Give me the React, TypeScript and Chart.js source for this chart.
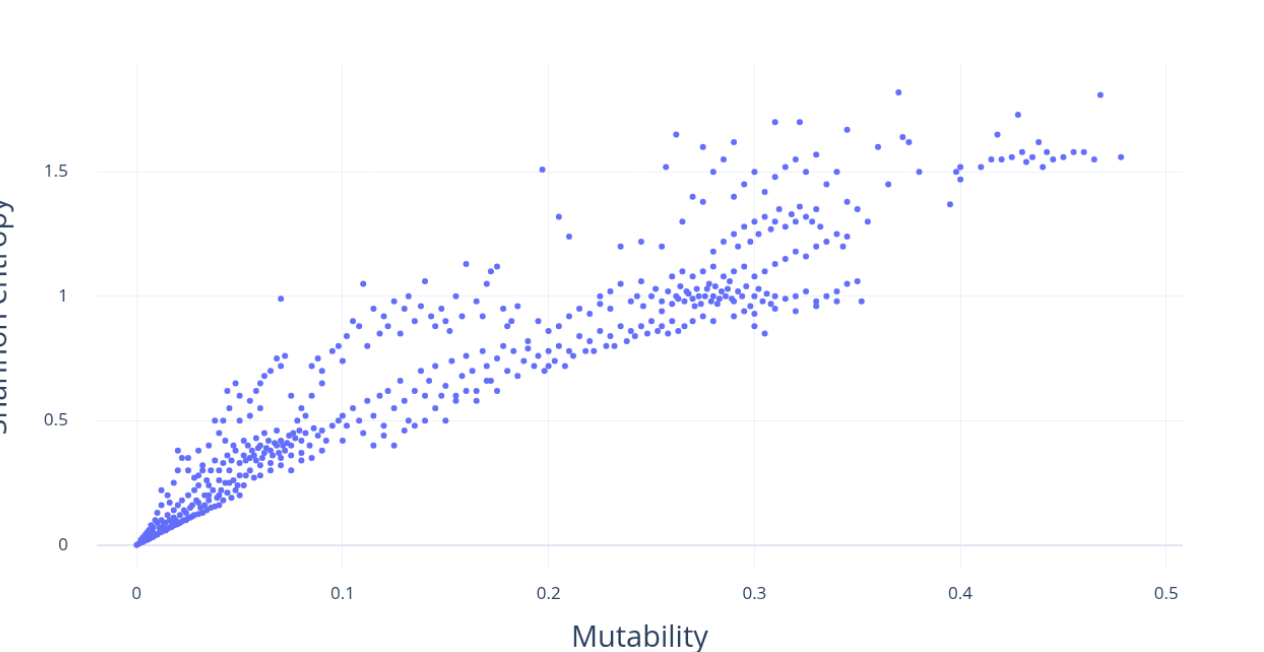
import React, { useEffect, useRef } from "react";
import { Chart, registerables } from "chart.js";
Chart.register(...registerables);

const xTicks = [0, 0.1, 0.2, 0.3, 0.4, 0.5];
const yTicks = [0, 0.5, 1, 1.5];

// [mutability, entropy] pairs, grouped by region
const originCluster: number[][] = [
  [0,0],[0.001,0.005],[0.002,0.01],[0.003,0.012],[0.004,0.018],[0.005,0.02],[0.006,0.025],[0.007,0.03],[0.008,0.033],[0.009,0.04],
  [0.01,0.042],[0.011,0.05],[0.012,0.052],[0.013,0.06],[0.014,0.058],[0.015,0.065],[0.016,0.07],[0.017,0.072],[0.018,0.08],[0.019,0.082],
  [0.02,0.085],[0.021,0.09],[0.022,0.095],[0.023,0.1],[0.024,0.1],[0.025,0.11],[0.026,0.11],[0.027,0.115],[0.028,0.12],[0.03,0.125],
  [0.032,0.13],[0.034,0.14],[0.036,0.15],[0.038,0.155],[0.04,0.16],[0.005,0.05],[0.008,0.07],[0.01,0.09],[0.012,0.1],[0.015,0.12],
  [0.018,0.14],[0.02,0.16],[0.022,0.18],[0.025,0.2],[0.028,0.22],[0.03,0.24],[0.015,0.2],[0.018,0.25],[0.02,0.3],[0.022,0.35],
  [0.012,0.16],[0.01,0.13],[0.006,0.06],[0.003,0.03],[0.014,0.09],[0.016,0.1],[0.018,0.11],[0.024,0.13],[0.026,0.15],[0.03,0.17],
  [0.033,0.2],[0.035,0.18],[0.037,0.22],[0.04,0.2],[0.042,0.18],[0.044,0.21],[0.046,0.19],[0.048,0.22],[0.05,0.2],[0.052,0.24],
  [0.02,0.38],[0.025,0.3],[0.028,0.27],[0.032,0.3],[0.012,0.22],[0.016,0.17],[0.009,0.1],[0.007,0.08],[0.004,0.04],[0.002,0.02],
  [0.011,0.07],[0.013,0.08],[0.017,0.09],[0.019,0.1],[0.021,0.12],[0.023,0.14],[0.027,0.16],[0.029,0.18],[0.031,0.15],[0.033,0.16],
  [0.035,0.2],[0.039,0.19],[0.041,0.22],[0.043,0.25],[0.047,0.26],[0.049,0.24],[0.053,0.28],[0.057,0.27],[0.006,0.04],[0.008,0.05],
];
const upperLeftBand: number[][] = [
  [0.03,0.28],[0.032,0.32],[0.034,0.26],[0.036,0.3],[0.038,0.34],[0.04,0.3],[0.042,0.33],[0.044,0.36],[0.045,0.3],[0.046,0.34],
  [0.048,0.38],[0.05,0.33],[0.052,0.36],[0.054,0.4],[0.055,0.35],[0.056,0.38],[0.058,0.34],[0.06,0.4],[0.062,0.37],[0.064,0.42],
  [0.065,0.38],[0.066,0.36],[0.068,0.4],[0.07,0.42],[0.072,0.38],[0.074,0.44],[0.075,0.4],[0.077,0.43],[0.079,0.46],[0.08,0.42],
  [0.082,0.45],[0.084,0.4],[0.086,0.47],[0.088,0.44],[0.09,0.46],[0.092,0.42],[0.05,0.28],[0.055,0.3],[0.06,0.32],[0.065,0.33],
  [0.07,0.35],[0.075,0.36],[0.08,0.37],[0.045,0.25],[0.04,0.26],[0.035,0.24],[0.058,0.43],[0.062,0.45],[0.068,0.46],[0.052,0.42],
  [0.047,0.4],[0.043,0.42],[0.04,0.45],[0.05,0.5],[0.055,0.52],[0.06,0.55],[0.035,0.4],[0.03,0.38],[0.025,0.35],[0.042,0.5],
  [0.045,0.55],[0.05,0.6],[0.055,0.58],[0.06,0.65],[0.065,0.7],[0.07,0.72],[0.068,0.75],[0.072,0.76],[0.062,0.68],[0.058,0.62],
  [0.048,0.65],[0.044,0.62],[0.038,0.5],[0.07,0.99],[0.075,0.6],[0.08,0.55],[0.085,0.6],[0.09,0.65],[0.078,0.5],[0.082,0.52],
  [0.095,0.48],[0.098,0.5],[0.1,0.52],[0.06,0.28],[0.065,0.3],[0.07,0.32],[0.075,0.3],[0.08,0.34],[0.085,0.35],[0.09,0.38],
  [0.053,0.34],[0.057,0.36],[0.059,0.39],[0.061,0.35],[0.063,0.39],[0.067,0.41],[0.069,0.37],[0.071,0.4],[0.073,0.41],[0.076,0.45],
];
const upperBranch: number[][] = [
  [0.085,0.72],[0.088,0.75],[0.09,0.7],[0.095,0.78],[0.098,0.8],[0.1,0.74],[0.102,0.84],[0.105,0.9],[0.108,0.88],[0.11,1.05],
  [0.112,0.8],[0.115,0.95],[0.118,0.85],[0.12,0.92],[0.122,0.88],[0.125,0.98],[0.128,0.85],[0.13,0.95],[0.132,1.0],[0.135,0.9],
  [0.138,0.96],[0.14,1.06],[0.143,0.92],[0.145,0.88],[0.148,0.95],[0.15,0.9],[0.152,0.86],[0.155,1.0],[0.158,0.92],[0.16,1.13],
  [0.165,0.98],[0.168,0.92],[0.17,1.05],[0.172,1.1],[0.175,1.12],[0.178,0.95],[0.18,0.88],[0.182,0.9],[0.185,0.96],[0.19,0.82],
  [0.197,1.51],[0.205,1.32],[0.21,1.24],[0.195,0.9],[0.2,0.86],
];
const middleBand: number[][] = [
  [0.1,0.42],[0.102,0.48],[0.105,0.55],[0.108,0.5],[0.11,0.45],[0.112,0.58],[0.115,0.52],[0.118,0.6],[0.12,0.48],[0.122,0.62],
  [0.125,0.55],[0.128,0.66],[0.13,0.58],[0.132,0.5],[0.135,0.62],[0.138,0.7],[0.14,0.6],[0.142,0.66],[0.145,0.72],[0.148,0.6],
  [0.15,0.64],[0.153,0.74],[0.155,0.58],[0.158,0.68],[0.16,0.76],[0.163,0.7],[0.165,0.62],[0.168,0.78],[0.17,0.72],[0.172,0.66],
  [0.175,0.75],[0.178,0.8],[0.18,0.7],[0.183,0.78],[0.185,0.68],[0.188,0.74],[0.19,0.79],[0.193,0.72],[0.195,0.76],[0.198,0.7],
  [0.2,0.78],[0.203,0.74],[0.205,0.8],[0.208,0.72],[0.21,0.78],[0.212,0.76],[0.215,0.84],[0.218,0.78],[0.22,0.82],[0.222,0.78],
  [0.225,0.86],[0.228,0.8],[0.23,0.84],[0.232,0.8],[0.235,0.88],[0.238,0.82],[0.24,0.86],[0.242,0.84],[0.245,0.88],[0.248,0.85],
  [0.25,0.9],[0.253,0.86],[0.255,0.88],[0.258,0.85],[0.26,0.9],[0.263,0.86],[0.266,0.88],[0.27,0.9],[0.275,0.92],[0.28,0.9],
  [0.115,0.4],[0.12,0.44],[0.125,0.4],[0.13,0.46],[0.135,0.48],[0.14,0.5],[0.145,0.55],[0.15,0.5],[0.155,0.6],[0.16,0.62],
  [0.165,0.58],[0.17,0.66],[0.175,0.62],[0.2,0.72],[0.205,0.88],[0.21,0.92],[0.215,0.95],[0.22,0.93],[0.225,0.97],[0.23,0.95],
];
const rightCluster: number[][] = [
  [0.24,0.98],[0.243,1.0],[0.246,0.96],[0.25,1.0],[0.252,1.03],[0.255,0.98],[0.258,1.02],[0.26,0.97],[0.262,1.0],[0.264,1.04],
  [0.266,0.98],[0.268,1.01],[0.27,0.99],[0.272,1.03],[0.274,0.97],[0.276,1.0],[0.278,1.05],[0.28,1.0],[0.282,0.97],[0.284,1.02],
  [0.286,1.0],[0.288,1.06],[0.29,0.98],[0.292,1.02],[0.294,1.0],[0.296,1.04],[0.298,0.96],[0.3,1.0],[0.302,1.03],[0.304,0.98],
  [0.306,1.01],[0.308,0.97],[0.31,1.0],[0.315,0.99],[0.32,1.0],[0.325,1.02],[0.33,0.98],[0.335,1.0],[0.34,1.02],[0.345,1.05],
  [0.35,1.06],[0.352,0.98],[0.27,1.08],[0.275,1.1],[0.28,1.12],[0.285,1.08],[0.29,1.1],[0.295,1.12],[0.3,1.08],[0.305,1.1],
  [0.31,1.13],[0.315,1.15],[0.32,1.18],[0.325,1.16],[0.33,1.2],[0.335,1.22],[0.34,1.25],[0.345,1.24],[0.29,0.92],[0.295,0.94],
  [0.3,0.93],[0.31,0.95],[0.32,0.94],[0.33,0.96],[0.34,0.98],[0.3,0.88],[0.305,0.85],[0.255,0.94],[0.26,1.08],[0.265,1.1],
  [0.245,1.06],[0.235,1.05],[0.23,1.02],[0.225,1.0],[0.235,1.2],[0.245,1.22],[0.255,1.2],[0.265,1.3],[0.27,1.4],[0.275,1.38],
  [0.263,0.99],[0.267,1.02],[0.271,0.96],[0.273,1.0],[0.277,1.03],[0.279,0.98],[0.281,1.04],[0.283,0.99],[0.287,1.03],[0.289,0.99],
];
const upperRight: number[][] = [
  [0.28,1.18],[0.285,1.22],[0.29,1.25],[0.292,1.2],[0.295,1.28],[0.298,1.22],[0.3,1.3],[0.302,1.25],[0.305,1.32],[0.308,1.27],
  [0.31,1.3],[0.312,1.35],[0.315,1.28],[0.318,1.33],[0.32,1.3],[0.322,1.36],[0.325,1.32],[0.328,1.3],[0.33,1.35],[0.332,1.28],
  [0.29,1.4],[0.295,1.45],[0.3,1.5],[0.305,1.42],[0.31,1.48],[0.315,1.52],[0.32,1.55],[0.325,1.5],[0.33,1.57],[0.335,1.45],
  [0.34,1.5],[0.345,1.38],[0.35,1.35],[0.355,1.3],[0.285,1.55],[0.28,1.5],[0.275,1.6],[0.262,1.65],[0.257,1.52],[0.29,1.62],
  [0.31,1.7],[0.322,1.7],[0.345,1.67],[0.36,1.6],[0.365,1.45],[0.37,1.82],[0.372,1.64],[0.375,1.62],[0.38,1.5],[0.343,1.2],
];
const tail: number[][] = [
  [0.395,1.37],[0.398,1.5],[0.4,1.52],[0.41,1.52],[0.415,1.55],[0.418,1.65],[0.42,1.55],[0.425,1.56],[0.428,1.73],[0.43,1.58],
  [0.432,1.54],[0.435,1.56],[0.438,1.62],[0.44,1.52],[0.442,1.58],[0.445,1.55],[0.45,1.56],[0.455,1.58],[0.46,1.58],[0.465,1.55],
  [0.468,1.81],[0.478,1.56],[0.4,1.47],
];

const allPoints = [...originCluster, ...upperLeftBand, ...upperBranch, ...middleBand, ...rightCluster, ...upperRight, ...tail];

export default function App() {
  const ref = useRef<HTMLCanvasElement>(null);
  useEffect(() => {
    document.body.style.margin = "0";
    const font = "'Open Sans', 'Noto Sans', sans-serif";
    const chart = new Chart(ref.current!, {
      type: "scatter",
      data: {
        datasets: [{
          data: allPoints.map(([x, y]) => ({ x, y })),
          backgroundColor: "#636efa",
          borderWidth: 0,
          pointRadius: 3,
        }],
      },
      options: {
        animation: false,
        responsive: false,
        layout: { padding: { left: 0, right: 80, top: 64, bottom: 6 } },
        plugins: { legend: { display: false }, tooltip: { enabled: false } },
        scales: {
          x: {
            type: "linear", min: -0.0195, max: 0.508,
            afterBuildTicks: (s: any) => { s.ticks = xTicks.map((v) => ({ value: v })); },
            grid: { color: "#ebf0f8", lineWidth: 1, drawTicks: false },
            border: { display: false },
            ticks: { color: "#2a3f5f", font: { family: font, size: 17 }, padding: 16, callback: (v: any) => String(v) },
            title: { display: true, text: "Mutability", color: "#2a3f5f", font: { family: font, size: 29 }, padding: { top: 0, bottom: 0 } },
          },
          y: {
            type: "linear", min: -0.09, max: 1.93,
            afterBuildTicks: (s: any) => { s.ticks = yTicks.map((v) => ({ value: v })); },
            grid: { color: (c: any) => (c.tick && c.tick.value === 0 ? "#e1e6f0" : "#ebf0f8"), lineWidth: (c: any) => (c.tick && c.tick.value === 0 ? 2 : 1), drawTicks: false },
            border: { display: false },
            ticks: { color: "#2a3f5f", font: { family: font, size: 17 }, padding: 28, callback: (v: any) => String(v) },
            title: { display: true, text: "Shannon entropy", color: "#2a3f5f", font: { family: font, size: 29 }, padding: { top: 0, bottom: 0 } },
          },
        },
      },
    });
    return () => chart.destroy();
  }, []);
  return <canvas ref={ref} width={1264} height={652} style={{ display: "block", marginLeft: -20, width: 1284 }} />;
}
